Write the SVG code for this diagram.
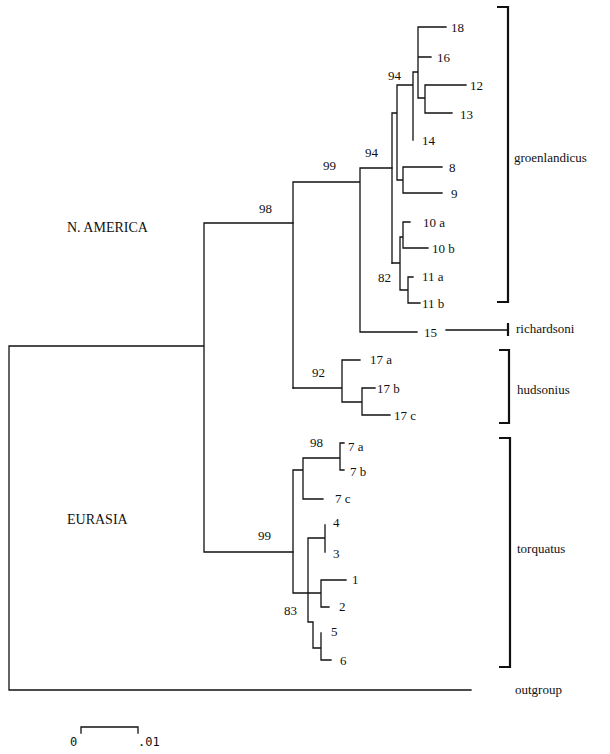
<svg xmlns="http://www.w3.org/2000/svg" width="610" height="754" viewBox="0 0 610 754">
<style>
.e{fill:none;stroke:#111;stroke-width:1.3;stroke-linecap:square}
.b{fill:none;stroke:#111;stroke-width:2.2}
text{font-family:"Liberation Serif","Times New Roman",serif;font-size:13px;fill:#111}
.r{font-size:14px}
.m{font-family:"DejaVu Sans Mono","Liberation Mono",monospace;font-size:12px}
</style>
<rect width="610" height="754" fill="#fff"/>
<g id="connectors">
<path class="e" d="M9,346V690H471M9,346H204M204,223V552M204,223H293M204,552H293"/>
<path class="e" d="M293,182V388M293,182H360M360,168V332M360,168H392M360,332H417M446,330H508"/>
<path class="e" d="M392,113V263M392,113H397M397,85V180M397,85H413M413,72V140M413,72H418M418,27V98M418,27H446M418,57H431M418,98H425M425,85V113M425,85H466M425,113H452M397,180H403M403,167V193M403,167H442M403,193H442"/>
<path class="e" d="M392,263H400M400,237V290M400,237H403M403,222V248M403,222H410M403,248H428M400,290H408M408,277V303M408,277H413M408,303H420"/>
<path class="e" d="M293,388H342M342,360V402M342,360H360M342,402H362M362,388V415M362,388H375M362,415H390"/>
<path class="e" d="M293,470V593M293,470H303M303,458V499M303,458H340M340,443V470M340,443H344M340,470H344M303,499H323M293,593H321M308,538V622M308,538H325M325,525V552M321,580V607M321,580H346M321,607H329M308,622H313M313,622V648M313,648H321M321,633V660M321,660H331"/>
</g>
<g id="brackets">
<path class="b" d="M497,7H508V302H497"/>
<path class="b" d="M508,323V336"/>
<path class="b" d="M499,350H509V423H499"/>
<path class="b" d="M499,438H510V667H499"/>
</g>
<g id="leaves">
<text x="451" y="32">18</text>
<text x="437" y="62">16</text>
<text x="470" y="90">12</text>
<text x="460" y="119">13</text>
<text x="422" y="145">14</text>
<text x="449" y="172">8</text>
<text x="451" y="198">9</text>
<text x="423" y="227">10 a</text>
<text x="432" y="253">10 b</text>
<text x="422" y="281">11 a</text>
<text x="422" y="308">11 b</text>
<text x="424" y="337">15</text>
<text x="370" y="364">17 a</text>
<text x="377" y="393">17 b</text>
<text x="394" y="420">17 c</text>
<text x="348" y="451">7 a</text>
<text x="350" y="476">7 b</text>
<text x="335" y="503">7 c</text>
<text x="333" y="527">4</text>
<text x="333" y="558">3</text>
<text x="352" y="584">1</text>
<text x="339" y="611">2</text>
<text x="331" y="636">5</text>
<text x="340" y="665">6</text>
</g>
<g id="support">
<text x="259" y="213">98</text>
<text x="323" y="170">99</text>
<text x="365" y="157">94</text>
<text x="388" y="80">94</text>
<text x="378" y="282">82</text>
<text x="312" y="377">92</text>
<text x="310" y="447">98</text>
<text x="258" y="540">99</text>
<text x="284" y="615">83</text>
</g>
<g id="labels">
<text class="r" x="67" y="232">N. AMERICA</text>
<text class="r" x="67" y="524">EURASIA</text>
<text x="514" y="162">groenlandicus</text>
<text x="516" y="333">richardsoni</text>
<text x="517" y="394">hudsonius</text>
<text x="517" y="553">torquatus</text>
<text x="515" y="694">outgroup</text>
</g>
<g id="scale">
<path class="e" d="M81,733V727H138V733"/>
<text class="m" x="70" y="746">0</text>
<text class="m" x="138" y="746">.01</text>
</g>
</svg>
